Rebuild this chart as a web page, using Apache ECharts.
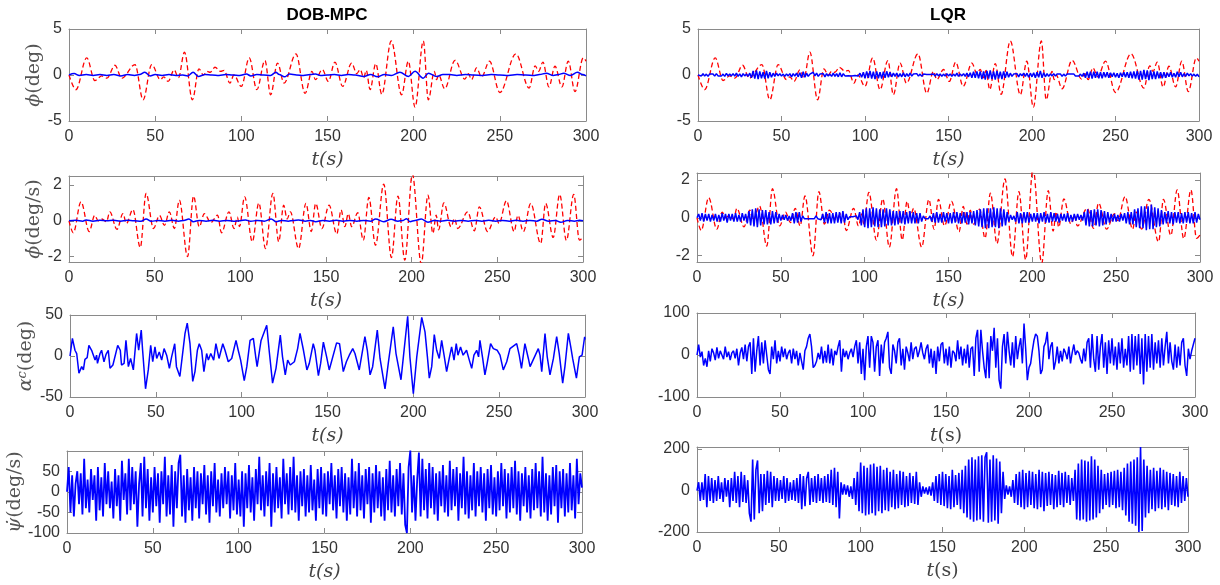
<!DOCTYPE html>
<html>
<head>
<meta charset="utf-8">
<script src="https://cdn.jsdelivr.net/npm/echarts@6/dist/echarts.min.js"></script>
<style>
  html, body { margin: 0; background: #fff; }
  #main { width: 1220px; height: 585px; }
</style>
</head>
<body>
<div id="main"></div>
<script>
// ---- data ----
const xTicks = [0, 50, 100, 150, 200, 250, 300]

// roll angle, open loop reference (red dashed, same in both columns) [t, deg]
const phiRef = [[0,0],[4,-1.6],[10.3,1.86],[15,-0.6],[19,-0.1],[22,-0.35],[26.7,1.06],[30.6,-0.36],[38.3,1.13],[43,-2.7],[48,1.13],[53,-0.5],[55,-0.2],[57.5,-0.7],[61,0.55],[63.5,-0.3],[67,2.48],[71.6,-2.7],[75.4,0.66],[78,0],[80,0.4],[82,0.3],[84.7,0.84],[88,0.4],[90,0.5],[93.4,-0.88],[95.7,0],[100,-1.24],[104.6,1.86],[109,-1.6],[113.7,1.57],[117,-2.15],[121,1.3],[124.8,-0.88],[131.7,2.3],[137,-2.0],[141,0.4],[143,-0.5],[147,0.6],[150.5,-0.7],[154.3,1.4],[158.8,-1.24],[164,1.3],[167,0.15],[169,0.6],[171,-0.3],[172.5,0.5],[174.7,-1.6],[178,1.24],[181.5,-2.1],[187,3.7],[193,-2.15],[196.9,1.5],[200.8,-3.5],[205.6,3.7],[208.5,-2.7],[212,0.4],[213.3,-0.5],[214.5,0],[218,-1.5],[224,1.6],[229.7,-0.44],[231.7,0.15],[233.6,-0.5],[236.5,0.77],[239.4,-0.2],[244,1.5],[250,-1.9],[259.3,2.3],[267,-1.42],[270.5,1.0],[272.5,0.4],[275,1.4],[278.5,-1.3],[282,0.95],[286,-1.3],[289.7,1.5],[293.6,-1.8],[298.4,1.86],[300,1.5]]

// roll angle, DOB-MPC [t, deg]
const phiMpc = [[0,0],[3,0.15],[6,-0.05],[10,0.05],[14,-0.05],[18,0.05],[22,-0.05],[26,0.05],[30,-0.1],[34,0.05],[38,-0.05],[41,0.05],[44,0.3],[47,-0.1],[50,0.05],[54,-0.05],[58,0.05],[62,-0.05],[66,0],[69,-0.1],[72,0.3],[75,-0.15],[79,0.05],[83,0],[87,-0.05],[91,0.05],[95,0],[99,-0.05],[103,0.1],[105.5,-0.1],[109,0.05],[113,0],[117,-0.05],[120,0.3],[122,0.05],[125,-0.2],[128,0.1],[132,0],[136,-0.05],[140,0.05],[143,0.1],[146,-0.05],[150,0],[154,0.05],[158,-0.05],[162,0.05],[166,0],[171,-0.15],[175,0.05],[179,-0.2],[183,0.05],[187,-0.05],[192,0.3],[197,-0.15],[200.8,0.4],[205.5,-0.35],[208.6,0.2],[213.3,-0.15],[217,0.05],[221,0.05],[225,-0.05],[230,0.05],[235,0],[240,-0.05],[245,0.05],[250,0],[255,-0.05],[260,0.05],[265,0],[270,-0.05],[273,0.05],[277,0.2],[281,-0.05],[284,0.05],[287,0.2],[291,-0.05],[295,0.3],[298,0.05],[300,-0.1]]

// roll angle, LQR, one value per second
const phiLqr = [
  0,0.12,-0.1,0.15,-0.12,0.1,-0.15,0.12,-0.08,0.1,
  -0.12,0.15,-0.1,0.08,-0.12,0.1,-0.15,0.18,-0.1,0.12,
  -0.1,0.15,-0.12,0.2,-0.15,0.12,-0.2,0.15,-0.1,0.12,
  -0.15,0.2,-0.3,0.45,-0.4,0.5,-0.45,0.4,-0.35,0.3,
  -0.4,0.45,-0.35,0.3,-0.25,0.2,-0.15,0.2,-0.1,0.15,
  -0.12,0.1,-0.15,0.12,-0.1,0.15,-0.2,0.15,-0.12,0.2,
  -0.2,0.25,-0.3,0.35,-0.25,0.2,-0.15,0.1,0.25,0.3,
  -0.1,0.2,-0.15,0.1,-0.1,0.15,-0.2,0.15,-0.12,0.1,
  -0.15,0.2,-0.15,0.15,-0.2,0.25,-0.2,0.15,-0.1,0.1,
  -0.08,0.05,-0.1,0.08,-0.05,0.1,-0.1,0.2,-0.25,0.3,
  -0.35,0.4,-0.3,0.45,-0.4,0.35,-0.45,0.4,-0.35,0.3,
  -0.4,0.35,-0.3,0.4,-0.25,0.3,-0.2,0.2,-0.15,0.2,
  -0.2,0.15,-0.2,0.25,-0.2,0.15,-0.15,0.2,-0.12,0.1,
  -0.1,0.15,-0.12,0.1,-0.15,0.1,-0.08,0.05,-0.1,0.05,
  -0.08,0.1,-0.12,0.15,-0.1,0.12,-0.15,0.1,-0.12,0.15,
  -0.1,0.12,-0.15,0.1,-0.12,0.2,-0.15,0.12,-0.1,0.15,
  -0.15,0.2,-0.2,0.25,-0.3,0.35,-0.3,0.4,-0.35,0.4,
  -0.45,0.4,-0.5,0.45,-0.4,0.5,-0.45,0.4,-0.5,0.45,
  -0.4,0.35,-0.45,0.4,-0.3,0.35,-0.25,0.2,-0.15,0.1,
  -0.1,0.15,-0.2,0.15,-0.1,0.2,-0.15,0.2,-0.25,0.2,
  -0.2,0.25,-0.3,0.3,-0.25,0.45,-0.3,0.25,-0.2,0.15,
  -0.15,0.12,-0.1,0.15,-0.12,0.1,-0.1,0.12,-0.15,0.1,
  -0.12,0.1,-0.08,0.1,-0.1,0.12,-0.1,0.08,-0.12,0.1,
  -0.15,0.2,-0.3,0.35,-0.3,0.35,-0.4,0.35,-0.3,0.35,
  -0.35,0.3,-0.35,0.3,-0.25,0.3,-0.3,0.25,-0.2,0.25,
  -0.25,0.2,-0.3,0.25,-0.2,0.3,-0.25,0.3,-0.3,0.35,
  -0.35,0.4,-0.4,0.45,-0.5,0.45,-0.5,0.55,-0.45,0.5,
  -0.55,0.5,-0.45,0.4,-0.45,0.4,-0.35,0.3,-0.35,0.3,
  -0.3,0.25,-0.2,0.3,-0.25,0.2,-0.25,0.35,-0.2,0.3,
  -0.2,0.15,-0.15,0.2,-0.1,0.15,-0.12,0.1,-0.15,0.1,
  -0.2
]

// roll rate, open loop reference (red dashed) [t, deg/s]
const dphiRef = [[0,0],[2.5,-0.67],[7,1.06],[11.8,-0.6],[15,0.3],[17,0],[19,0.1],[21.9,-0.05],[23.8,0.5],[28,-0.48],[31.5,0.4],[33.5,-0.15],[37.3,0.63],[41.6,-1.49],[45,1.53],[49.3,-0.43],[52.8,0.3],[55.7,-0.25],[58.6,0.5],[61.5,-0.43],[64.4,1.15],[69.2,-2.0],[72.7,1.38],[76,-0.33],[79,0.4],[82.8,-0.1],[86.7,0.32],[89,-0.67],[93.4,0.5],[96.3,-0.43],[98.3,0.2],[99.5,-0.33],[102.5,1.34],[107,-1.17],[110.8,1.0],[114.7,-1.55],[119,1.53],[122.4,-1.17],[125.3,0.87],[127.3,0.1],[129.2,0.5],[134,-1.55],[138.3,0.97],[141.4,-0.6],[144,0.97],[147.6,-0.43],[151.8,0.87],[156.3,-0.74],[158.8,0.6],[161,-0.33],[163,0.4],[165,-0.33],[168.5,0.45],[171.8,-1.08],[175,1.3],[178.9,-1.36],[183.7,2.05],[188.2,-2.05],[192,1.38],[196,-2.2],[200.4,2.6],[205.6,-2.4],[209.5,1.43],[212.4,-0.7],[214.3,0.32],[215.7,-0.5],[218.8,1.0],[223,-0.33],[225,0.13],[226.9,-0.43],[232.7,0.5],[236.6,-0.56],[239.5,0.78],[244.3,-0.6],[249,0.22],[251,-0.15],[255.3,1.12],[259.8,-0.6],[262,0.3],[265.2,-0.6],[269.5,0.97],[275.3,-1.27],[278.2,0.97],[282.6,-0.93],[286.4,1.47],[290.3,-1.1],[294.6,1.47],[297.9,-1.08],[300,-0.9]]

// roll rate, DOB-MPC [t, deg/s]
const dphiMpc = [[0,0],[4,0.03],[8,-0.02],[10,0.05],[14,-0.02],[18,0.03],[22,0],[26,0.03],[30,-0.02],[34,0.03],[38,0],[42,-0.03],[45,0.1],[48,-0.03],[52,0.02],[56,-0.02],[60,0.03],[64,-0.02],[67,0.02],[70,0.1],[72.5,-0.05],[76,0.02],[80,-0.02],[84,0.03],[88,-0.02],[92,0.02],[96,-0.02],[100,0],[103,0.05],[106,-0.03],[110,0.02],[114,-0.02],[118,0.1],[121,-0.05],[124,0.02],[128,-0.02],[131,0.02],[134,0.05],[138,-0.02],[141,0.02],[144,-0.05],[148,0.02],[152,-0.02],[156,0.03],[160,-0.02],[164,0.02],[168,-0.02],[172,0.02],[176,-0.02],[179,0.1],[183.7,-0.05],[188,0.08],[192,-0.02],[195,0.02],[197,0.12],[199,-0.05],[202,0.02],[205.6,0.1],[209.5,-0.08],[213,0.02],[217,-0.02],[221,0.03],[225,-0.02],[229,0.02],[233,-0.02],[237,0.02],[241,-0.02],[245,0.03],[249,-0.02],[253,0.02],[257,-0.02],[261,0.03],[265,-0.02],[269,0.02],[273,-0.02],[276,0.08],[280,-0.02],[284,0.02],[287,-0.08],[291,0.02],[295,-0.02],[298,0.03],[300,0]]

// roll rate, LQR, one value per second
const dphiLqr = [
  0,0.2,-0.15,0.25,-0.2,0.2,-0.15,0.2,-0.2,0.15,
  -0.15,0.2,-0.2,0.15,-0.2,0.25,-0.15,0.2,-0.25,0.2,
  -0.15,0.2,-0.2,0.25,-0.2,0.15,-0.2,0.25,-0.15,0.2,
  -0.3,0.35,-0.4,0.45,-0.45,0.5,-0.5,0.45,-0.4,0.4,
  -0.35,0.4,-0.35,0.3,-0.35,0.35,-0.3,0.3,-0.25,0.2,
  -0.15,0.15,-0.1,0.15,-0.15,0.1,-0.15,0.25,-0.3,0.3,
  -0.25,0.3,-0.2,0.1,-0.05,0.05,-0.05,0.05,-0.05,0.05,
  -0.05,0.1,-0.05,0.05,-0.1,0.2,-0.25,0.3,-0.3,0.25,
  -0.3,0.25,-0.3,0.3,-0.25,0.3,-0.3,0.35,-0.25,0.2,
  -0.1,0.05,-0.05,0.05,-0.05,0.1,-0.1,0.3,-0.4,0.45,
  -0.5,0.5,-0.55,0.5,-0.5,0.55,-0.45,0.5,-0.5,0.45,
  -0.5,0.45,-0.45,0.5,-0.4,0.45,-0.4,0.35,-0.4,0.35,
  -0.35,0.35,-0.3,0.35,-0.35,0.3,-0.3,0.35,-0.3,0.3,
  -0.3,0.25,-0.3,0.25,-0.2,0.1,-0.05,0.05,-0.05,0.1,
  -0.2,0.25,-0.25,0.3,-0.25,0.2,-0.25,0.3,-0.2,0.25,
  -0.3,0.25,-0.3,0.3,-0.25,0.3,-0.3,0.25,-0.3,0.3,
  -0.25,0.3,-0.35,0.3,-0.3,0.35,-0.4,0.4,-0.45,0.45,
  -0.5,0.5,-0.55,0.5,-0.55,0.5,-0.5,0.55,-0.5,0.5,
  -0.55,0.5,-0.45,0.45,-0.4,0.3,-0.2,0.15,-0.1,0.1,
  -0.2,0.3,-0.3,0.25,-0.3,0.3,-0.25,0.3,-0.25,0.2,
  -0.2,0.25,-0.2,0.25,-0.3,0.25,-0.2,0.3,-0.25,0.2,
  -0.25,0.3,-0.2,0.25,-0.2,0.2,-0.25,0.2,-0.15,0.2,
  -0.2,0.25,-0.2,0.15,-0.2,0.2,-0.15,0.2,-0.1,0.15,
  -0.15,0.3,-0.4,0.45,-0.45,0.4,-0.45,0.45,-0.4,0.45,
  -0.45,0.4,-0.4,0.35,-0.35,0.3,-0.25,0.2,-0.2,0.2,
  -0.2,0.15,-0.2,0.2,-0.15,0.25,-0.3,0.3,-0.35,0.3,
  -0.35,0.45,-0.5,0.5,-0.55,0.6,-0.55,0.6,-0.65,0.6,
  -0.6,0.7,-0.6,0.55,-0.5,0.5,-0.45,0.4,-0.35,0.3,
  -0.3,0.35,-0.3,0.3,-0.35,0.3,-0.25,0.3,-0.3,0.25,
  -0.3,0.3,-0.25,0.3,-0.3,0.25,-0.3,0.3,-0.25,0.2,
  -0.1
]

// commanded angle alpha^c, DOB-MPC [t, deg]
const alphaMpc = [[0,0],[1.4,21.5],[2.9,7],[3.9,3],[5.2,-21],[6.8,-13],[7.8,-17],[8.7,-4],[10,-2],[11,13],[12.6,7],[13.6,9],[14.6,-5],[15.5,1],[16,-9],[17.5,3],[18.4,7],[19.8,-7],[21,2],[22.3,7],[23.3,-15],[25,-11],[27.8,13],[29.3,7],[30,-11],[31.5,-9],[32.6,19],[34,-13],[35.3,-3],[36.9,-17],[38.8,27.5],[40,7],[41.5,31.5],[42.3,7],[44,-40],[45.6,-17],[47,13],[48.2,-7],[49.5,11],[50.5,-3],[52,5],[53.4,-5],[54.8,9],[56.3,1],[57.9,-15],[59.2,-1],[61,15],[62,-13],[64,-25],[65.6,3],[67,27.5],[68.3,40],[69.9,15],[71.5,-31],[72.8,-19],[74.2,7],[75.3,15],[76.7,7],[78,-19],[79.6,3],[80.6,-5],[82,3],[83.7,-5],[85,15],[86.8,-3],[89,15],[90.3,7],[92.2,-7],[94.2,-3],[96.7,19],[98,7],[99.4,-5],[101.5,-30],[103,-13],[104.9,19],[106.8,21.5],[108.3,-3],[109,-13],[111.3,19],[114.6,37.5],[116,7],[118,-33],[120,-15],[122.5,25.5],[123.8,-1],[125.4,-23],[126.8,-5],[128.3,-11],[130.7,-7],[132.6,9],[134,27.5],[136,7],[138,-17],[139.4,-9],[141.7,15],[142.7,7],[144.7,-24],[146,-9],[147.6,17],[149.5,-1],[151,-17],[155.3,16],[157,15],[159.2,-19],[161,-7],[162.7,1],[164.7,9],[166,3],[168.5,-17],[171.8,23.5],[173.2,7],[174.8,-23],[176.3,-13],[179,31.5],[180.6,-3],[183.5,-40],[185.4,-9],[188.3,35.5],[189.9,3],[192.8,-29],[194,-5],[196.7,48.5],[198,-1],[200,-46],[202,-1],[204.9,47],[206.8,29.5],[208.2,-1],[209.3,-27],[210.7,-13],[212.2,26],[213.6,7],[215.1,-3],[216.5,19],[217.9,1],[219.4,-19],[220.9,-3],[222.3,11],[223.7,-5],[225,15],[226,1],[227.5,11],[229,1],[231,7],[232.6,-5],[234,-15],[235.3,1],[236.9,7],[238,-1],[238.8,19],[240.4,-3],[241.7,-23],[243,-9],[245,15],[246.6,9],[248.9,7],[250.5,1],[252.4,-17],[254.4,-7],[256.3,9],[260.2,15],[261.7,1],[263,-15],[265,15],[267,-3],[268,-13],[272.8,9],[273.8,1],[274.8,-19],[276.7,27.5],[278,-1],[279.6,-23],[281.6,-3],[283.5,23.5],[285,3],[287,-33],[288.3,-13],[290.3,27.5],[291.7,11],[292.8,-3],[295,-27],[296.7,-1],[298.3,1],[299.8,23.5],[300,20]]

// commanded angle alpha^c, LQR, one value per second
const alphaLqr = [
  0,25,-5,8,-25,-8,-28,10,-15,15,
  5,-12,18,-8,10,0,-10,20,-5,8,
  -12,5,10,-8,15,-25,5,18,-10,25,
  -15,20,30,-45,40,-40,10,45,-25,30,
  -20,35,0,-35,-45,20,-10,35,-20,10,
  -15,20,-5,15,-10,5,12,-20,15,-10,
  10,-25,5,-15,-35,10,20,40,50,20,
  -30,-25,-15,5,-10,20,-20,10,-18,25,
  -20,15,-25,10,0,20,35,-40,15,-5,
  10,-10,5,15,-5,20,35,-20,30,-45,
  15,-60,20,45,-30,45,30,-40,20,35,
  -50,25,-20,30,40,55,-30,-45,25,10,
  -20,30,40,-25,15,-35,20,5,-15,30,
  -10,15,20,-5,10,30,5,-10,15,25,
  -20,15,-30,10,-45,20,-15,25,30,-20,
  15,-25,20,-30,10,5,-15,35,-10,20,
  -25,15,-20,25,-30,15,20,-50,40,60,
  -40,60,10,-30,-55,30,-55,45,10,65,
  -30,40,-60,-80,20,50,-20,55,10,-25,
  30,-30,45,-10,20,40,-20,75,15,-60,
  -30,-20,10,35,50,45,10,-45,-35,20,
  30,55,-10,20,30,-35,-15,20,-20,10,
  -15,15,5,-10,20,-20,5,25,0,10,
  5,-10,-20,15,-15,30,40,-30,50,-10,
  -40,45,-35,20,50,-30,30,-45,35,-20,
  40,-25,20,-35,30,-20,40,-30,15,-25,
  45,-40,50,-35,45,-25,50,-45,40,-70,
  50,-40,45,-30,50,-35,30,-20,35,-30,
  40,-25,20,55,-20,30,-15,-35,25,-30,
  20,-25,30,40,-25,-50,15,-10,10,25,
  40
]

// yaw rate, DOB-MPC, one value per second
const dpsiMpc = [
  0,60,-50,40,-60,20,50,-30,45,-55,
  80,-40,30,-50,55,-20,40,-70,60,-45,
  35,-60,70,-30,50,-40,25,-65,55,-35,
  40,-70,75,-20,45,-55,80,-45,60,-30,
  50,-85,20,70,-60,85,-40,55,-70,35,
  -50,60,-35,45,-75,50,-30,85,-60,40,
  -55,65,-85,50,-40,70,90,-60,40,-75,
  55,-45,35,-70,60,-40,50,-65,45,-30,
  65,-55,40,-75,50,-35,70,-50,30,-60,
  45,-40,60,-30,50,-65,40,-45,70,-55,
  30,-60,50,-85,45,-40,65,-50,35,-70,
  55,-30,85,-45,40,-60,50,-35,70,-85,
  45,-50,60,-40,35,-65,80,-30,45,-55,
  60,-45,85,-50,40,-70,50,-35,55,-60,
  40,-50,65,-45,30,-70,55,-40,60,-55,
  45,-60,50,-30,70,-45,40,-65,55,-35,
  60,-50,45,-70,35,-55,80,-40,50,-60,
  70,-45,40,-65,55,-30,60,-75,45,-50,
  65,-40,50,-60,35,-70,55,-45,75,-50,
  40,-60,55,-35,70,-55,45,-80,-100,60,
  100,-50,40,-70,30,95,-60,80,-45,55,
  -65,70,-40,60,-55,45,-70,50,-35,65,
  -50,40,-60,75,-45,55,-35,60,-70,45,
  -40,85,-55,50,-65,40,-45,70,-60,50,
  -35,60,-50,45,-70,55,-40,65,-55,35,
  -60,50,-45,70,-35,55,-65,45,-50,60,
  -40,75,-55,50,-70,45,-35,60,-50,40,
  -65,55,-45,70,-40,50,-60,85,-50,45,
  -70,40,-55,60,-35,65,-75,50,-40,55,
  -60,45,-50,70,-45,40,-65,80,-30,45,
  10
]

// yaw rate, LQR, one value per second
const dpsiLqr = [
  0,40,-50,40,-45,80,-80,70,-50,60,
  -60,50,-50,70,-40,40,-55,60,-30,50,
  -80,60,-50,90,-60,70,-80,90,-55,75,
  -60,50,-110,-150,150,-140,100,145,-110,80,
  -100,80,-70,95,-60,90,-80,70,-50,60,
  -50,50,-40,70,-60,60,-50,40,-45,50,
  -50,60,-60,80,-90,70,-75,60,90,-70,
  60,-55,70,-60,80,-50,60,-60,70,-55,
  80,-60,100,-70,110,-80,90,-135,40,-20,
  30,-20,25,-30,20,-40,60,-70,90,-100,
  135,-110,120,-120,110,-115,125,-110,130,-120,
  115,-100,120,-110,100,-95,110,-100,90,-80,
  100,-90,80,-85,95,-70,90,-80,70,-75,
  85,-60,70,-65,90,-70,40,-30,20,-15,
  15,-20,20,-25,40,-50,70,-60,80,-70,
  90,-75,80,-85,70,-90,100,-80,75,-70,
  85,-90,100,-110,120,-130,150,-140,160,-150,
  150,-145,165,-140,170,-150,160,185,-155,150,
  -150,170,-145,155,-160,140,-110,90,-40,25,
  -20,20,-30,50,-60,80,-70,90,-80,100,
  -90,85,-80,95,-70,90,-85,80,-90,100,
  -80,90,-100,85,-75,90,-70,80,-90,75,
  -80,95,-70,85,-80,90,-60,75,-70,60,
  -50,100,-140,130,-145,150,-140,145,-150,140,
  -145,165,-140,150,-130,120,-110,100,-90,80,
  -70,85,-80,90,-70,95,-85,100,-80,90,
  -95,110,-120,130,-150,140,-160,150,-170,160,
  -200,210,-195,150,-130,120,-110,100,-90,110,
  -100,95,-85,110,-90,100,-80,90,-95,85,
  -70,80,-75,70,-80,90,-60,70,-50,60,
  -30
]

// ---- chart ----
const chart = echarts.init(document.getElementById('main'))
const AXIS = '#8a8a8a'
const LABEL = '#333'
const BLUE = '#0000ff'
const RED = '#ff0000'
const perSecond = arr => arr.map((v, i) => [i, v])

const serifRich = {
  i: { fontFamily: 'DejaVu Serif', fontStyle: 'italic', fontSize: 19, color: '#555' },
  r: { fontFamily: 'DejaVu Serif', fontSize: 19, color: '#555' }
}

const panels = [
  { grid: { left: 69, top: 29, width: 517, height: 92 }, y: [-5, 5], yTicks: [-5, 0, 5], yName: '{i|ϕ}{r|(deg)}', nameGap: 24, xName: '{i|t(s)}' },
  { grid: { left: 69, top: 176, width: 514, height: 86 }, y: [-2.3, 2.5], yTicks: [-2, 0, 2], yName: '{i|ϕ̇}{r|(deg/s)}', nameGap: 24, xName: '{i|t(s)}' },
  { grid: { left: 70, top: 315, width: 515, height: 82 }, y: [-50, 50], yTicks: [-50, 0, 50], yName: '{i|α}{s|c}{r|(deg)}', nameGap: 28, xName: '{i|t(s)}' },
  { grid: { left: 67, top: 451, width: 515, height: 82 }, y: [-100, 99], yTicks: [-100, -50, 0, 50], yName: '{i|ψ̇}{r|(deg/s)}', nameGap: 36, xName: '{i|t(s)}' },
  { grid: { left: 698, top: 29, width: 501, height: 92 }, y: [-5, 5], yTicks: [-5, 0, 5], xName: '{i|t(s)}' },
  { grid: { left: 697, top: 173, width: 503, height: 89 }, y: [-2.33, 2.36], yTicks: [-2, 0, 2], xName: '{i|t(s)}' },
  { grid: { left: 697, top: 313, width: 498, height: 84 }, y: [-100, 100], yTicks: [-100, 0, 100], xName: '{i|t}{r|(s)}' },
  { grid: { left: 697, top: 447, width: 491, height: 85 }, y: [-200, 210], yTicks: [-200, 0, 200], xName: '{i|t}{r|(s)}' }
]

const grids = []
const xAxes = []
const yAxes = []
panels.forEach((p, i) => {
  grids.push(p.grid)
  const common = {
    gridIndex: i,
    axisLine: { show: true, onZero: false, lineStyle: { color: AXIS, width: 1 } },
    axisTick: { show: true, inside: true, length: 5, lineStyle: { color: AXIS } },
    splitLine: { show: false }
  }
  xAxes.push({
    ...common, type: 'value', position: 'bottom', min: 0, max: 300,
    axisTick: { ...common.axisTick, customValues: xTicks },
    axisLabel: { customValues: xTicks, fontSize: 16, color: LABEL, margin: 8, fontFamily: 'Liberation Sans' },
    name: p.xName, nameLocation: 'middle', nameGap: 30,
    nameTextStyle: { rich: { i: { ...serifRich.i, color: '#444' }, r: { ...serifRich.r, color: '#444' } } }
  })
  xAxes.push({
    ...common, type: 'value', position: 'top', min: 0, max: 300,
    axisTick: { ...common.axisTick, customValues: xTicks },
    axisLabel: { show: false, customValues: xTicks }
  })
  yAxes.push({
    ...common, type: 'value', position: 'left', min: p.y[0], max: p.y[1],
    axisTick: { ...common.axisTick, customValues: p.yTicks },
    axisLabel: { customValues: p.yTicks, fontSize: 16, color: LABEL, margin: 7, fontFamily: 'Liberation Sans' },
    name: p.yName || '', nameLocation: 'middle', nameGap: p.nameGap || 0,
    nameTextStyle: { rich: { ...serifRich, s: { fontFamily: 'DejaVu Serif', fontStyle: 'italic', fontSize: 13, color: '#555', padding: [0, 0, 8, 0] } } }
  })
  yAxes.push({
    ...common, type: 'value', position: 'right', min: p.y[0], max: p.y[1],
    axisTick: { ...common.axisTick, customValues: p.yTicks },
    axisLabel: { show: false, customValues: p.yTicks }
  })
})

const line = (data, panel, color, dashed, smooth, width) => ({
  type: 'line',
  xAxisIndex: panel * 2,
  yAxisIndex: panel * 2,
  data,
  symbol: 'none',
  silent: true,
  animation: false,
  smooth: smooth ? 0.35 : false,
  smoothMonotone: 'x',
  lineStyle: { color, width: width || (dashed ? 1.3 : 1.5), type: dashed ? [5, 3] : 'solid' }
})

const option = {
  backgroundColor: '#fff',
  grid: grids,
  xAxis: xAxes,
  yAxis: yAxes,
  graphic: [
    { type: 'text', x: 327, y: 15, style: { text: 'DOB-MPC', align: 'center', verticalAlign: 'middle', font: 'bold 17px "Liberation Sans"', fill: '#000' } },
    { type: 'text', x: 948, y: 15, style: { text: 'LQR', align: 'center', verticalAlign: 'middle', font: 'bold 17px "Liberation Sans"', fill: '#000' } }
  ],
  series: [
    line(phiRef, 0, RED, true, true),
    line(phiMpc, 0, BLUE, false, true),
    line(dphiRef, 1, RED, true, true),
    line(dphiMpc, 1, BLUE, false, true),
    line(alphaMpc, 2, BLUE, false, false),
    line(perSecond(dpsiMpc), 3, BLUE, false, false, 1.8),
    line(phiRef, 4, RED, true, true),
    line(perSecond(phiLqr), 4, BLUE, false, false),
    line(dphiRef, 5, RED, true, true),
    line(perSecond(dphiLqr), 5, BLUE, false, false),
    line(perSecond(alphaLqr), 6, BLUE, false, false),
    line(perSecond(dpsiLqr), 7, BLUE, false, false, 1.6)
  ]
}
chart.setOption(option)
</script>
</body>
</html>
